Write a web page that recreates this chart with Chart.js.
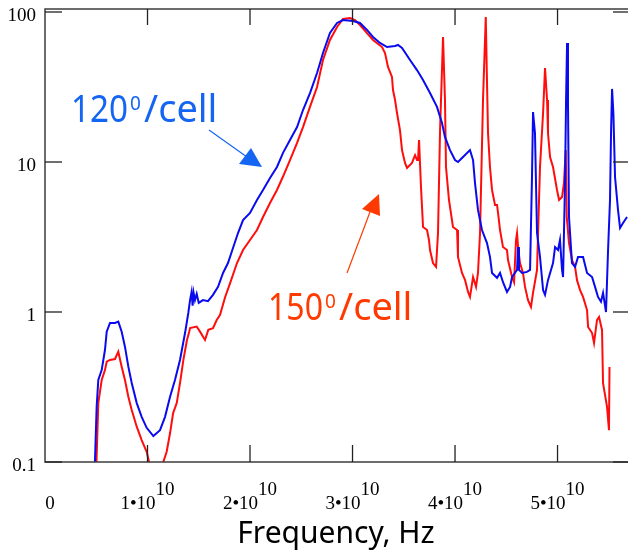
<!DOCTYPE html>
<html>
<head>
<meta charset="utf-8">
<script src="https://cdn.jsdelivr.net/npm/chart.js@4"></script>
<style>
html, body { margin: 0; padding: 0; background: #fff; overflow: hidden; }
</style>
</head>
<body>
<canvas id="chart" width="632" height="554"></canvas>
<script>
// frequency in GHz (plotted as Hz), amplitude on log scale
const freqBlue = [4.85,5.04,5.2,5.53,5.85,6.02,6.34,6.83,7.15,7.48,
  7.8,8.13,8.46,8.95,9.43,9.92,10.57,11.22,11.71,12.2,
  12.68,13.17,13.66,13.98,14.15,14.3,14.4,14.5,14.63,14.8,
  15.0,15.41,15.9,16.39,16.88,17.37,17.85,18.34,18.83,19.32,
  20.0,20.68,21.27,21.95,22.63,23.22,23.9,24.59,25.17,25.85,
  26.54,27.12,27.8,28.49,29.07,30.05,30.73,31.41,32.0,32.68,
  33.37,34.15,34.44,34.83,35.61,36.29,36.88,37.56,38.24,38.73,
  39.02,39.51,40.0,40.29,40.78,41.46,41.76,41.95,42.24,42.63,
  43.12,43.41,43.61,44.1,44.39,44.68,45.07,45.37,45.56,46.05,
  46.15,46.24,46.54,47.02,47.32,47.51,47.61,47.8,48.0,48.29,
  48.59,48.78,49.07,49.56,49.76,50.05,50.24,50.44,50.54,50.73,
  50.83,50.93,51.02,51.12,51.41,51.71,52.0,52.49,52.88,53.37,
  53.66,53.95,54.24,54.44,54.73,54.93,55.12,55.22,55.32,55.45,
  55.61,55.9,56.1,56.39,56.78];
const valBlue = [0.09,0.234,0.352,0.41,0.558,0.739,0.845,0.845,0.862,0.739,
  0.587,0.432,0.336,0.247,0.2,0.169,0.149,0.163,0.2,0.272,
  0.352,0.479,0.724,0.985,1.2,1.36,1.1,1.34,1.2,1.32,
  1.15,1.2,1.18,1.3,1.47,1.82,2.12,2.67,3.36,4.1,
  4.57,5.58,6.51,7.82,9.26,11.5,14.0,17.1,22.2,28.8,
  39.2,53.3,72.4,84.5,88.4,87.1,84.5,75.9,68.1,62.2,
  58.4,59.3,60.3,57.5,47.9,41.0,35.2,28.8,23.3,18.2,
  14.7,12.0,10.3,10.0,10.8,12.0,10.3,7.24,4.79,3.52,
  2.88,2.33,1.82,1.69,1.82,1.58,1.36,1.47,1.71,1.91,
  2.71,1.91,1.82,1.85,1.91,8.0,21.5,15.6,3.36,2.33,
  1.4,1.3,1.63,2.12,2.71,2.59,3.02,1.91,1.71,7.24,
  25.0,62.2,25.0,4.3,2.12,2.0,2.33,2.33,1.82,1.71,
  1.47,1.26,1.17,1.34,1.0,2.59,5.58,15.6,30.7,21.0,
  7.94,4.79,3.63,3.92,4.3];

const freqRed = [5.0,5.2,5.53,5.85,6.02,6.34,6.83,7.15,7.48,7.8,
  8.13,8.46,8.95,9.43,9.92,10.15,10.6,11.1,11.54,11.87,
  12.2,12.5,12.85,13.17,13.5,13.85,14.07,14.15,14.8,15.12,
  15.61,15.93,16.39,16.75,17.07,17.56,18.05,18.73,19.32,20.0,
  20.68,21.27,21.95,22.63,23.22,23.9,24.59,25.17,25.85,26.54,
  27.12,27.8,28.49,29.07,29.76,30.24,30.73,31.41,32.0,32.88,
  33.17,33.46,33.85,33.95,34.15,34.34,34.63,34.83,35.12,35.32,
  35.8,36.1,36.29,36.39,36.49,36.68,36.88,37.27,37.46,37.56,
  37.85,38.15,38.34,38.54,38.83,39.02,39.12,39.41,39.8,40.2,
  40.29,40.68,40.98,41.27,41.46,41.76,42.05,42.24,42.44,42.73,
  43.0,43.1,43.22,43.41,43.61,43.9,44.1,44.2,44.39,44.68,
  45.07,45.17,45.56,45.76,45.95,46.05,46.15,46.34,46.63,46.83,
  47.12,47.41,47.61,48.0,48.1,48.29,48.59,48.78,48.98,49.07,
  49.27,49.56,49.95,50.15,50.44,50.63,50.8,50.9,51.12,51.41,
  51.71,51.9,52.2,52.49,52.88,52.98,53.37,53.56,53.85,54.05,
  54.34,54.44,54.83,55.02,55.07];
const valRed = [0.09,0.247,0.352,0.41,0.466,0.479,0.486,0.544,0.432,0.352,
  0.272,0.222,0.172,0.14,0.117,0.1,0.07,0.07,0.1,0.117,
  0.156,0.212,0.247,0.336,0.479,0.651,0.739,0.782,0.8,0.74,
  0.651,0.76,0.78,0.884,0.955,1.25,1.55,2.12,2.59,3.02,
  3.52,4.3,5.33,6.51,8.0,10.3,13.4,17.1,23.3,31.6,
  47.9,65.1,79.4,89.9,91.2,88.4,81.9,72.4,65.1,58.4,
  53.3,43.0,36.9,30.2,25.9,21.2,16.3,12.0,9.85,9.12,
  9.85,11.1,10.3,10.3,14.0,6.81,3.69,3.52,3.02,2.59,
  2.12,2.0,3.36,16.3,68.1,25.9,9.26,5.58,3.69,3.52,
  2.33,1.82,1.63,1.36,1.26,1.71,1.47,1.82,3.36,25.9,
  92.7,40.0,15.6,9.26,6.51,5.17,5.17,4.57,3.52,2.71,
  2.59,2.22,1.71,1.58,3.02,3.36,2.71,2.12,1.82,1.47,
  1.2,1.08,1.34,1.91,3.36,9.26,21.2,42.3,25.9,15.6,
  10.8,9.26,6.51,5.58,5.84,7.24,12.0,4.3,2.88,2.22,
  2.0,1.63,1.4,1.26,1.03,0.794,0.724,0.621,0.884,0.926,
  0.759,0.336,0.233,0.163,0.43];

const yTicks = [0.1, 1, 10, 100];
const yTickLabels = ['0.1', '1', '10', '100'];
const xTicks = [0, 1e10, 2e10, 3e10, 4e10, 5e10];
const xTickBase = ['0', '1\u202210', '2\u202210', '3\u202210', '4\u202210', '5\u202210'];
const xTickExp = ['', '10', '10', '10', '10', '10'];

const toPoints = (f, v) => f.map((g, i) => ({ x: g * 1e9, y: v[i] }));

const framePlugin = {
  id: 'frame',
  afterDraw(chart) {
    const { ctx, chartArea: a, scales: { x, y } } = chart;
    ctx.save();
    ctx.strokeStyle = '#3c3c3c';
    ctx.lineWidth = 1.5;
    ctx.strokeRect(a.left, a.top, a.right - a.left, a.bottom - a.top);

    const seg = (x1, y1, x2, y2) => { ctx.beginPath(); ctx.moveTo(x1, y1); ctx.lineTo(x2, y2); ctx.stroke(); };
    ctx.lineWidth = 1.3;
    ctx.strokeStyle = '#222';
    yTicks.forEach(v => {
      const py = y.getPixelForValue(v);
      seg(a.left, py, a.left + 17, py);
      seg(a.right - 17, py, a.right, py);
    });
    xTicks.slice(1).forEach(v => {
      const px = x.getPixelForValue(v);
      seg(px, a.top, px, a.top + 16);
      seg(px, a.bottom - 17, px, a.bottom);
    });

    // tick labels
    ctx.fillStyle = '#000';
    ctx.font = '19px "Liberation Serif"';
    ctx.textAlign = 'right';
    ctx.textBaseline = 'middle';
    yTicks.forEach((v, i) => ctx.fillText(yTickLabels[i], 36, y.getPixelForValue(v) + 4));

    ctx.textAlign = 'left';
    ctx.textBaseline = 'alphabetic';
    xTicks.forEach((v, i) => {
      const px = x.getPixelForValue(v) + (i === 0 ? 5 : 0);
      const wb = ctx.measureText(xTickBase[i]).width;
      const we = ctx.measureText(xTickExp[i]).width;
      const start = px - (wb + we) / 2;
      ctx.fillText(xTickBase[i], start, 509);
      if (xTickExp[i]) ctx.fillText(xTickExp[i], start + wb, 495);
    });

    // axis title
    ctx.font = '30px "Noto Sans"';
    ctx.textAlign = 'center';
    ctx.fillText('Frequency, Hz', 336, 543, 213);

    // annotations
    ctx.textAlign = 'left';
    const label = (col, x0, base, main, sup, rest, wMain, wRest) => {
      ctx.fillStyle = col;
      ctx.font = '38px "Noto Sans"';
      ctx.fillText(main, x0, base, wMain);
      ctx.font = '19px "Noto Sans"';
      ctx.fillText(sup, x0 + wMain + 2, base - 12, 13);
      ctx.font = '38px "Noto Sans"';
      ctx.fillText(rest, x0 + wMain + 16, base, wRest);
    };
    label('#1466f2', 71, 122, '120', '0', '/cell', 57, 78);
    label('#ff3a00', 268, 320, '150', '0', '/cell', 55, 76);

    const arrow = (col, x1, y1, x2, y2, tri) => {
      ctx.strokeStyle = col;
      ctx.fillStyle = col;
      ctx.lineWidth = 1.2;
      seg(x1, y1, x2, y2);
      ctx.beginPath();
      ctx.moveTo(tri[0], tri[1]);
      ctx.lineTo(tri[2], tri[3]);
      ctx.lineTo(tri[4], tri[5]);
      ctx.closePath();
      ctx.fill();
    };
    arrow('#1466f2', 209, 130, 247, 157, [239, 164, 251, 148, 262, 167]);
    arrow('#ff3a00', 347, 273, 370, 212, [362, 209, 380, 216, 379, 194]);
    ctx.restore();
  }
};

new Chart(document.getElementById('chart'), {
  type: 'line',
  data: {
    datasets: [{
      label: '120/cell',
      data: toPoints(freqBlue, valBlue),
      borderColor: '#0a0aef',
      borderWidth: 2,
      pointRadius: 0,
      tension: 0,
      fill: false
    }, {
      label: '150/cell',
      data: toPoints(freqRed, valRed),
      borderColor: '#ff0d0d',
      borderWidth: 2,
      pointRadius: 0,
      tension: 0,
      fill: false
    }]
  },
  options: {
    responsive: false,
    devicePixelRatio: 1,
    animation: false,
    layout: { padding: { left: 45, top: 9, right: 2, bottom: 92 } },
    plugins: { legend: { display: false }, tooltip: { enabled: false } },
    scales: {
      x: { type: 'linear', min: 0, max: 5.707e10, display: false },
      y: { type: 'logarithmic', min: 0.1, max: 104.7, display: false }
    }
  },
  plugins: [framePlugin]
});
</script>
</body>
</html>
